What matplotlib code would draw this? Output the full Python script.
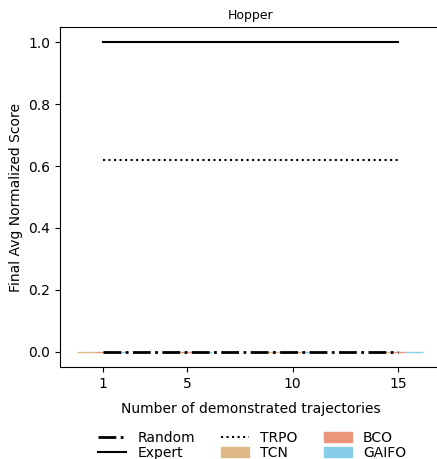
import numpy as np
import matplotlib.pyplot as plt

demos = [1, 5, 10, 15]
random_score = [0.0, 0.0, 0.0, 0.0]
expert_score = [1.0, 1.0, 1.0, 1.0]
trpo_score = [0.62, 0.62, 0.62, 0.62]
tcn_score = [0.0, 0.0, 0.0, 0.0]
bco_score = [0.0, 0.0, 0.0, 0.0]
gaifo_score = [0.0, 0.0, 0.0, 0.0]

fig = plt.figure(figsize=(4.37, 4.59), dpi=100)
ax = fig.add_axes([0.1373, 0.2004, 0.871, 0.7408])

x = np.array(demos)
w = 0.8
ax.bar(x - w, tcn_score, width=w, color='burlywood', edgecolor='burlywood', linewidth=1, label='TCN')
ax.bar(x, bco_score, width=w, color='darksalmon', edgecolor='darksalmon', linewidth=1, label='BCO')
ax.bar(x + w, gaifo_score, width=w, color='skyblue', edgecolor='skyblue', linewidth=1, label='GAIFO')

ax.plot(x, random_score, color='black', linestyle='-.', linewidth=2, label='Random')
ax.plot(x, expert_score, color='black', linestyle='-', linewidth=1.5, label='Expert')
ax.plot(x, trpo_score, color='black', linestyle=':', linewidth=1.5, label='TRPO')

ax.set_xlim(-1.02, 17.02)
ax.set_ylim(-0.05, 1.05)
ax.set_xticks(demos)
ax.set_title('Hopper', fontsize=9)
ax.set_xlabel('Number of demonstrated trajectories', labelpad=8)
ax.set_ylabel('Final Avg Normalized Score')

h, l = ax.get_legend_handles_labels()
order = ['Random', 'Expert', 'TRPO', 'TCN', 'BCO', 'GAIFO']
hd = dict(zip(l, h))
fig.legend([hd[k] for k in order], order, ncol=3, frameon=False,
           loc='upper center', bbox_to_anchor=(0.577, 0.089),
           columnspacing=1.9, labelspacing=0.1)

fig.savefig('out.png', dpi=100)
